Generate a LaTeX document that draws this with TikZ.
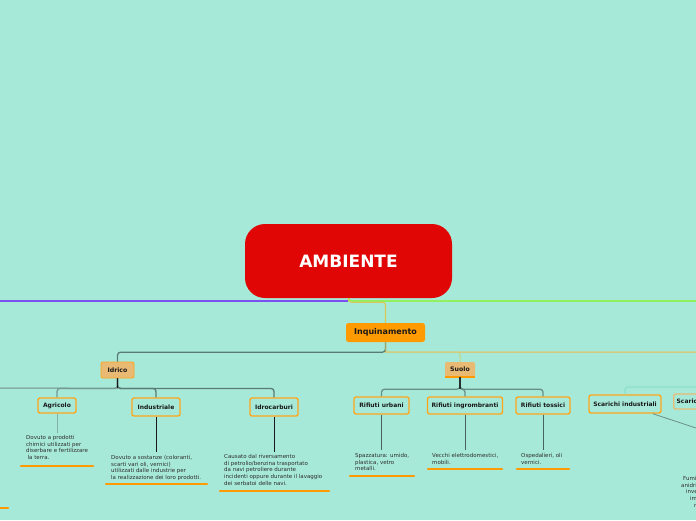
\documentclass[tikz,border=0pt]{standalone}
\usepackage{fontspec}
\setmainfont{DejaVu Sans}
\definecolor{bg}{RGB}{167,233,216}
\definecolor{rootred}{RGB}{224,6,6}
\definecolor{orng}{RGB}{255,154,0}
\definecolor{boxorng}{RGB}{255,164,24}
\definecolor{tanfill}{RGB}{233,186,116}
\definecolor{purp}{RGB}{122,80,240}
\definecolor{lgreen}{RGB}{144,240,96}
\definecolor{yline}{RGB}{214,200,90}
\definecolor{oline}{RGB}{242,184,74}
\definecolor{dline}{RGB}{90,122,116}
\definecolor{lline}{RGB}{134,176,166}
\definecolor{teal}{RGB}{142,224,200}
\definecolor{bodytext}{RGB}{45,45,45}
\begin{document}
\begin{tikzpicture}[x=1pt,y=-1pt,
  root/.style={rectangle, rounded corners=20pt, fill=rootred, minimum width=207pt, minimum height=74pt, inner sep=0pt, text=white, font=\fontsize{17}{20}\selectfont\bfseries},
  mainbox/.style={rectangle, rounded corners=2.5pt, fill=orng, minimum width=79pt, minimum height=19pt, inner sep=0pt, text=black!90, font=\fontsize{8}{9}\selectfont\bfseries},
  catbox/.style={rectangle, rounded corners=2pt, fill=tanfill, inner sep=0pt, text=black!90, font=\fontsize{6.2}{7}\selectfont\bfseries},
  subbox/.style={rectangle, rounded corners=2pt, draw=boxorng, line width=1.3pt, fill=bg, inner sep=0pt, text=black!90, font=\fontsize{6}{7}\selectfont\bfseries},
  desc/.style={align=left, anchor=north west, inner sep=0pt, text=bodytext, font=\fontsize{5.5}{6.7}\selectfont},
  uline/.style={draw=orng, line width=2.5pt, line cap=round},
  conn/.style={line width=1pt}
]
\useasboundingbox[fill=bg] (0,0) rectangle (696,520);

% ---- nodes ----
\node[root] (root) at (348.5,261) {AMBIENTE};
\node[mainbox] (inq) at (385.5,332.5) {Inquinamento};
\node[catbox, draw=boxorng, line width=0.8pt, minimum width=33pt, minimum height=16pt] (idrico) at (117.5,370) {Idrico};
\node[catbox, minimum width=30pt, minimum height=15pt] (suolo) at (460,369.5) {Suolo};

\node[subbox, minimum width=38pt, minimum height=15pt] (agr) at (57,405.5) {Agricolo};
\node[subbox, minimum width=48pt, minimum height=18pt] (ind) at (156,407) {Industriale};
\node[subbox, minimum width=48pt, minimum height=18pt] (idro) at (274,407) {Idrocarburi};

\node[subbox, minimum width=55pt, minimum height=17pt] (ru) at (381.5,405.5) {Rifiuti urbani};
\node[subbox, minimum width=75pt, minimum height=17pt] (ri) at (465,405.5) {Rifiuti ingrombranti};
\node[subbox, minimum width=54pt, minimum height=17pt] (rt) at (543,405.5) {Rifiuti tossici};

\node[subbox, minimum width=72pt, minimum height=18pt] (si) at (625,404) {Scarichi industriali};
\node[subbox, draw=tanfill, anchor=west, minimum width=40pt, minimum height=15pt, align=left, text width=34pt] (sc) at (673,401.5) {Scarichi};

% descriptions
\node[desc] (dagr) at (26,435) {Dovuto a prodotti\\chimici utilizzati per\\diserbare e fertilizzare\\\hspace*{1.5pt}la terra.};
\node[desc] (dind) at (111,455) {Dovuto a sostanze (coloranti,\\scarti vari oli, vernici)\\utilizzati dalle industrie per\\la realizzazione dei loro prodotti.};
\node[desc] (didro) at (224,454) {Causato dal riversamento\\di petrolio/benzina trasportato\\da navi petroliere durante\\incidenti oppure durante il lavaggio\\dei serbatoi delle navi.};
\node[desc] (dru) at (355,453) {Spazzatura: umido,\\plastica, vetro\\metalli.};
\node[desc] (dri) at (432,453) {Vecchi elettrodomestici,\\mobili.};
\node[desc] (drt) at (521,453) {Ospedalieri, oli\\vernici.};
\node[desc] (dfumi) at (681,476) {\hspace*{2pt}Fumi\\anidride\\\hspace*{5pt}invece\\\hspace*{9pt}impianti\\\hspace*{13pt}riscaldamento};
\node[desc] (dleft) at (-2,485) {.};

% underlines
\draw[uline] (21,466) -- (93,466);
\draw[uline] (106,484) -- (207,484);
\draw[uline] (220,491) -- (329,491);
\draw[uline] (350,476) -- (414,476);
\draw[uline] (428,469) -- (502,469);
\draw[uline] (517,469) -- (569,469);
\draw[uline] (-20,508) -- (8,508);
\draw[uline, line width=2.2pt, line cap=butt] (suolo.south west) -- (suolo.south east);

% off-canvas endpoints
\coordinate (pl) at (-5,301);
\coordinate (gr) at (701,301);
\coordinate (orr) at (701,352);
\coordinate (idl) at (-5,388);
\coordinate (tc) at (701,387);
\coordinate (fumi) at (720,436);

% ---- connectors ----
\draw[purp, line width=2pt] (root.south) |- (pl);
\draw[lgreen, line width=2pt] (root.south) |- (gr);
\draw[yline, line width=1.2pt, rounded corners=3pt] (root.south) -- ++(0,4) -| (inq.north);

\draw[oline, conn] (inq.south) -- ++(0,10) -- (orr);
\draw[yline!70!bg, conn, rounded corners=3pt] (inq.south) -- ++(0,10) -| (suolo.north);
\draw[dline, line width=1.3pt, rounded corners=3pt] (inq.south) -- ++(0,10) -| (idrico.north);
\draw[yline!60!dline, line width=1.3pt] (inq.south) -- ++(0,10);

\draw[lline, line width=1.5pt] (idrico.south) -- ++(0,10) -- (idl);
\draw[lline!60!dline, line width=1.3pt, rounded corners=3pt] (idrico.south) -- ++(0,10) -| (agr.north);
\draw[dline, line width=1.3pt, rounded corners=3pt] (idrico.south) -- ++(0,10) -| (ind.north);
\draw[dline, line width=1.3pt, rounded corners=3pt] (idrico.south) -- ++(0,10) -| (idro.north);
\draw[black!90, conn] (idrico.south) -- ++(0,10);

\draw[lline, conn] (agr.south) -- (57,433);
\draw[black!90, conn] (ind.south) -- (156,452);
\draw[black!90, conn] (idro.south) -- (274,452);

\draw[dline!80!bg, line width=1.3pt, rounded corners=3pt] (suolo.south) -- ++(0,12) -| (ru.north);
\draw[dline!80!bg, line width=1.3pt, rounded corners=3pt] (suolo.south) -- ++(0,12) -| (ri.north);
\draw[dline!80!bg, line width=1.3pt, rounded corners=3pt] (suolo.south) -- ++(0,12) -| (rt.north);
\draw[dline!40!black, line width=1.3pt] (suolo.south) -- ++(0,12);

\draw[dline!80!black, conn] (ru.south) -- (381.5,450);
\draw[dline!80!black, conn] (ri.south) -- (465,450);
\draw[dline!80!black, conn] (rt.south) -- (543,450);

\draw[teal, line width=1.3pt, rounded corners=3pt] (tc) -| (si.north);
\draw[dline!80!bg, line width=0.8pt] ([xshift=-9pt]si.south east) -- (fumi);
\end{tikzpicture}
\end{document}
